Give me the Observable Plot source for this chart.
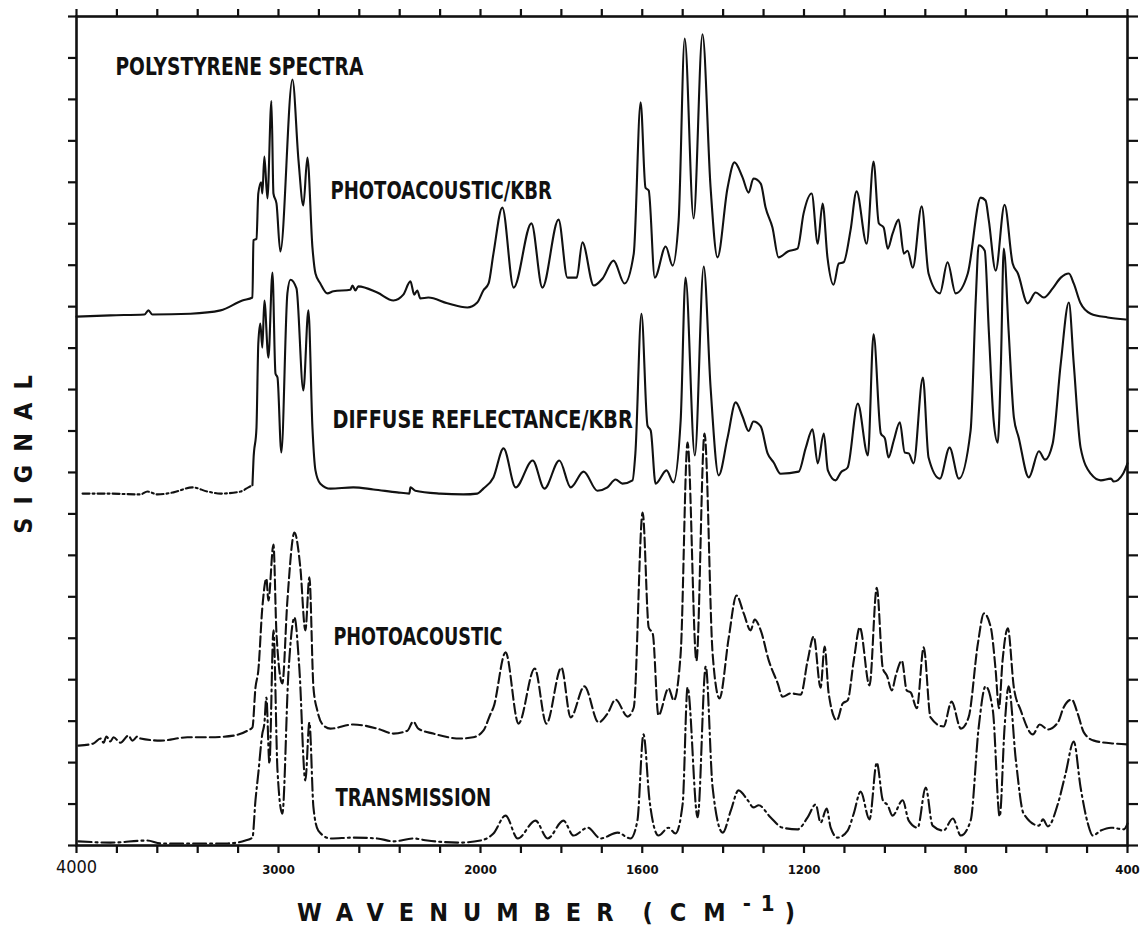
<!DOCTYPE html>
<html>
<head>
<meta charset="utf-8">
<script src="https://cdn.jsdelivr.net/npm/d3@7"></script>
<script src="https://cdn.jsdelivr.net/npm/@observablehq/plot@0.6"></script>
<style>
  html, body { margin: 0; padding: 0; background: #fff; }
  #chart svg { display: block; }
  #chart svg text { font-stretch: condensed; }
</style>
</head>
<body>
<div id="chart"></div>
<script>
// ---------- data (wavenumber in cm-1, signal in axis tick units) ----------
const paKbrWn = [4000,3832,3664,3644,3624,3436,3287,3179,3129,3124,3109,3100,3086,3080,3070,3055,3035,3025,3010,2991,2931,2901,2877,2857,2832,2817,2793,2758,2728,2644,2634,2619,2605,2511,2431,2382,2347,2328,2313,2298,2258,2164,2065,2016,
  1993,1980,1968,1946,1918,1874,1847,1807,1785,1762,1748,1720,1698,1671,1644,1621,1604,1592,1584,1569,1542,1525,1510,1495,1473,1451,1431,1414,1389,1372,1352,1337,1325,1307,1295,1278,1263,1240,1216,1201,1181,1166,1154,1142,1127,1114,1102,1085,1070,1045,1028,1015,1003,993,981,966,953,944,931,909,892,864,845,825,795,763,751,743,726,704,684,671,647,627,607,585,565,545,533,516,491,449,404];
const paKbrSig = [12.76,12.79,12.81,12.91,12.81,12.83,12.91,13.15,13.22,14.60,14.64,15.73,16.00,15.73,16.62,15.61,17.96,15.73,15.49,14.33,18.48,16.53,15.44,16.60,14.43,13.80,13.56,13.32,13.37,13.41,13.51,13.39,13.49,13.34,13.15,13.29,13.61,13.29,13.39,13.20,13.22,13.08,12.98,13.10,
  13.39,13.56,14.28,15.39,13.46,15.01,13.46,15.10,13.70,13.70,14.55,13.51,13.68,14.11,13.56,14.28,17.93,15.87,15.80,13.70,14.45,13.99,15.08,19.47,15.13,19.57,15.87,14.19,15.87,16.48,16.12,15.75,16.09,15.97,15.39,14.91,14.19,14.33,14.40,15.25,15.73,14.52,15.49,14.19,13.53,14.04,14.07,14.84,15.78,14.52,16.50,15.01,14.91,14.40,14.76,15.10,14.28,14.35,13.94,15.42,13.80,13.32,14.07,13.32,13.80,15.63,15.56,15.08,13.87,15.46,14.04,13.80,13.08,13.34,13.22,13.44,13.70,13.80,13.56,13.08,12.83,12.74,12.69];

const drWn = [3970,3847,3683,3649,3599,3520,3426,3352,3287,3188,3149,3129,3124,3109,3100,3090,3080,3070,3050,3030,3015,3005,2986,2956,2941,2911,2877,2852,2832,2817,2793,2743,2630,2530,2412,2352,2347,2323,2199,2085,2016,
  1993,1968,1943,1913,1871,1842,1805,1777,1745,1711,1686,1666,1649,1624,1617,1602,1587,1579,1567,1540,1523,1505,1493,1470,1448,1431,1411,1389,1369,1352,1337,1325,1307,1290,1275,1258,1213,1196,1179,1166,1151,1141,1122,1109,1092,1067,1042,1028,1010,1000,991,978,963,951,941,929,906,892,864,840,817,788,775,768,753,743,731,721,713,706,694,681,669,644,619,604,585,565,545,533,516,491,466,441,434,411,400];
const drSig = [8.49,8.49,8.47,8.54,8.47,8.52,8.64,8.54,8.49,8.54,8.64,8.69,9.29,10.08,12.11,12.59,12.01,13.15,11.77,13.82,11.39,11.29,9.48,13.32,13.65,13.44,10.98,12.91,10.08,9.05,8.73,8.61,8.64,8.59,8.52,8.49,8.64,8.56,8.49,8.47,8.49,
  8.61,8.88,9.58,8.64,9.29,8.61,9.29,8.64,9.02,8.56,8.64,8.83,8.73,8.81,9.46,12.83,10.13,10.01,8.73,9.05,8.76,10.25,13.70,9.41,13.97,11.05,8.93,9.84,10.69,10.35,10.00,10.23,10.11,9.46,9.24,8.97,9.02,9.58,10.04,9.22,9.94,9.05,8.81,9.00,9.12,10.66,9.41,12.33,9.94,9.82,9.36,9.77,10.21,9.48,9.46,9.22,11.29,9.36,8.85,9.60,8.85,10.01,13.22,14.48,14.35,12.42,10.25,9.72,11.63,14.40,12.42,10.33,9.84,8.88,9.51,9.31,9.70,11.63,13.10,11.63,9.60,8.97,8.81,8.85,8.78,8.97,9.22];

const paWn = [3990,3916,3881,3866,3852,3832,3817,3782,3743,3723,3698,3683,3584,3451,3337,3223,3154,3129,3114,3100,3080,3060,3050,3025,3010,2981,2956,2921,2892,2867,2847,2827,2808,2778,2743,2630,2511,2431,2362,2333,2308,2234,2100,2036,
  1993,1975,1968,1938,1906,1866,1837,1800,1777,1743,1708,1686,1666,1636,1621,1599,1584,1574,1560,1535,1522,1505,1488,1466,1446,1426,1409,1386,1367,1349,1332,1322,1307,1287,1265,1253,1233,1208,1191,1176,1159,1149,1139,1119,1104,1092,1077,1062,1038,1020,1005,995,983,973,958,946,936,921,904,887,855,835,812,793,770,755,738,726,718,709,696,681,664,634,617,597,572,558,538,523,508,483,434,400];
const paSig = [2.41,2.46,2.58,2.48,2.63,2.51,2.61,2.48,2.65,2.53,2.63,2.58,2.53,2.61,2.61,2.65,2.77,2.85,3.81,4.22,5.74,6.44,5.91,7.26,5.11,3.91,5.91,7.55,6.71,5.19,6.47,3.81,3.26,2.90,2.82,2.92,2.82,2.70,2.77,2.99,2.82,2.70,2.58,2.61,
  2.77,3.18,3.33,4.66,2.94,4.27,2.94,4.29,3.09,3.84,2.97,3.18,3.52,3.11,3.33,8.03,5.26,5.11,3.14,3.79,3.50,4.63,9.72,4.46,9.94,4.63,3.55,5.02,6.03,5.60,5.19,5.45,5.19,4.46,3.91,3.59,3.67,3.64,4.46,5.04,3.81,4.80,3.67,3.02,3.43,3.50,4.46,5.26,3.86,6.22,4.27,4.10,3.74,4.10,4.46,3.74,3.69,3.31,4.78,3.09,2.87,3.47,2.82,3.09,4.87,5.60,5.26,4.22,3.31,4.46,5.24,3.81,3.26,2.68,2.92,2.80,2.97,3.33,3.52,3.18,2.73,2.53,2.46,2.44];

const trWn = [3990,3832,3649,3584,3421,3253,3164,3129,3114,3100,3080,3070,3060,3045,3025,3005,2981,2951,2921,2897,2867,2847,2827,2803,2743,2630,2511,2431,2333,2263,2100,2000,
  1968,1938,1908,1864,1834,1795,1770,1735,1703,1661,1629,1612,1597,1582,1560,1535,1518,1500,1488,1463,1443,1426,1401,1381,1362,1339,1325,1312,1283,1253,1216,1191,1171,1159,1144,1134,1117,1092,1077,1060,1038,1020,1005,993,981,956,941,919,899,882,855,832,812,788,768,751,733,716,704,694,676,657,619,609,597,572,553,533,516,498,486,466,441,409,400];
const trSig = [0.10,0.07,0.12,0.05,0.05,0.05,0.12,0.19,1.09,1.74,2.70,2.94,3.57,1.98,5.19,1.81,0.77,4.15,5.50,4.29,1.57,2.97,0.92,0.36,0.17,0.19,0.17,0.10,0.17,0.12,0.07,0.12,
  0.29,0.72,0.17,0.60,0.17,0.60,0.24,0.43,0.17,0.31,0.17,0.60,2.68,1.09,0.24,0.43,0.29,1.01,3.81,0.68,4.32,1.40,0.31,0.84,1.33,1.09,0.92,0.97,0.68,0.43,0.39,0.68,0.99,0.55,0.89,0.43,0.19,0.36,0.77,1.30,0.63,2.00,1.09,0.97,0.72,1.09,0.60,0.43,1.40,0.48,0.36,0.65,0.24,0.60,2.85,3.84,3.26,0.70,2.85,3.84,2.05,0.77,0.48,0.63,0.46,1.01,1.74,2.51,1.40,0.53,0.24,0.36,0.43,0.39,0.53];

// axis ticks
const xTicks = [4000,3800,3600,3400,3200,3000,2800,2600,2400,2200,2000,1900,1800,1700,1600,1500,1400,1300,1200,1100,1000,900,800,700,600,500,400];
const xLabelTicks = [3000,2000,1600,1200,800,400];
const xFirstLabel = [4000];
const yTicks = [0,1,2,3,4,5,6,7,8,9,10,11,12,13,14,15,16,17,18,19,20];

// text annotations
const labelText = ["POLYSTYRENE SPECTRA","PHOTOACOUSTIC/KBR","DIFFUSE REFLECTANCE/KBR","PHOTOACOUSTIC","TRANSMISSION"];
const labelWn   = [3807, 2743, 2733, 2728, 2718];
const labelSig  = [18.77, 15.78, 10.25, 5.02, 1.13];

// ---------- build ----------
const zip = (wn, sig) => wn.map((w, i) => ({wn: w, s: sig[i]}));
const paKbr = zip(paKbrWn, paKbrSig);
const dr = zip(drWn, drSig);
const drBaseline = dr.filter(d => d.wn >= 3129);   // plotter drew this flat stretch broken
const drMain = dr.filter(d => d.wn <= 3129);
const pa = zip(paWn, paSig);
const tr = zip(trWn, trSig);
const labels = labelText.map((t, i) => ({text: t, wn: labelWn[i], s: labelSig[i]}));

const FONT = '"Liberation Sans Narrow","DejaVu Sans Condensed","DejaVu Sans",sans-serif';
const INK = "#111";
const CHAR_PITCH = 13.15; // monospaced plotter lettering

const plot = Plot.plot({
  width: 1146,
  height: 936,
  marginLeft: 76,
  marginRight: 19,
  marginTop: 16,
  marginBottom: 91,
  x: {type: "linear", domain: [4000, 2000, 400], range: [76, 480, 1127], label: null},
  y: {type: "linear", domain: [0, 20], range: [845, 16], label: null},
  style: {fontFamily: FONT, background: "#fff", color: INK},
  marks: [
    Plot.axisX({anchor: "bottom", ticks: xTicks, tickSize: 8, tickFormat: () => "", label: null, strokeWidth: 2.2}),
    Plot.axisX({anchor: "top", ticks: xTicks, tickSize: 8, tickFormat: () => "", label: null, strokeWidth: 2.2}),
    Plot.axisY({anchor: "left", ticks: yTicks, tickSize: 8, tickFormat: () => "", label: null, strokeWidth: 2.2}),
    Plot.axisY({anchor: "right", ticks: yTicks, tickSize: 10, tickFormat: () => "", label: null, strokeWidth: 2.2}),
    Plot.frame({stroke: INK, strokeWidth: 2.6}),
    Plot.text(xFirstLabel, {x: d => d, frameAnchor: "bottom", dy: 27, text: d => String(d), fontSize: 18, fontWeight: "normal", fill: INK, fontFamily: FONT}),
    Plot.text(xLabelTicks, {x: d => d, frameAnchor: "bottom", dy: 28, text: d => String(d), fontSize: 13, fontWeight: 900, fill: INK, fontFamily: FONT}),
    Plot.line(paKbr, {x: "wn", y: "s", curve: "monotone-x", stroke: INK, strokeWidth: 2.1}),
    Plot.line(drBaseline, {x: "wn", y: "s", curve: "monotone-x", stroke: INK, strokeWidth: 2.1, strokeDasharray: "7,3,2,3"}),
    Plot.line(drMain, {x: "wn", y: "s", curve: "monotone-x", stroke: INK, strokeWidth: 2.1}),
    Plot.line(pa, {x: "wn", y: "s", curve: "monotone-x", stroke: INK, strokeWidth: 2.1, strokeDasharray: "10,4"}),
    Plot.line(tr, {x: "wn", y: "s", curve: "monotone-x", stroke: INK, strokeWidth: 2.1, strokeDasharray: "13,4,2,4"}),
    Plot.text(labels, {x: "wn", y: "s", text: "text", textAnchor: "start", fontSize: 24, fontWeight: "bold", fill: INK, fontFamily: FONT})
  ]
});

// axis titles (letter-spaced plotter lettering)
const svg = d3.select(plot);
svg.append("text")
  .attr("transform", "translate(32,448) rotate(-90)")
  .attr("text-anchor", "middle")
  .attr("font-family", FONT).attr("font-weight", "bold").attr("font-size", 25)
  .attr("letter-spacing", 13).attr("fill", INK)
  .text("SIGNAL");
const xt = svg.append("text")
  .attr("x", 297).attr("y", 921)
  .attr("text-anchor", "start")
  .attr("font-family", FONT).attr("font-weight", "bold").attr("font-size", 25)
  .attr("fill", INK);
xt.append("tspan").attr("letter-spacing", 15).text("WAVENUMBER");
xt.append("tspan").attr("dx", 14).attr("letter-spacing", 17).text("(CM");
xt.append("tspan").attr("dy", -10).attr("font-size", 22).attr("letter-spacing", 10).text("-1");
xt.append("tspan").attr("dy", 10).attr("dx", 0).text(")");

document.getElementById("chart").appendChild(plot);

// fit the spectrum labels to the plotter's fixed character pitch
svg.selectAll("text")
  .filter(function() { return labelText.includes(this.textContent); })
  .each(function() {
    const n = this.textContent.length;
    this.setAttribute("textLength", (n * CHAR_PITCH - 2).toFixed(1));
    this.setAttribute("lengthAdjust", "spacingAndGlyphs");
  });
</script>
</body>
</html>
